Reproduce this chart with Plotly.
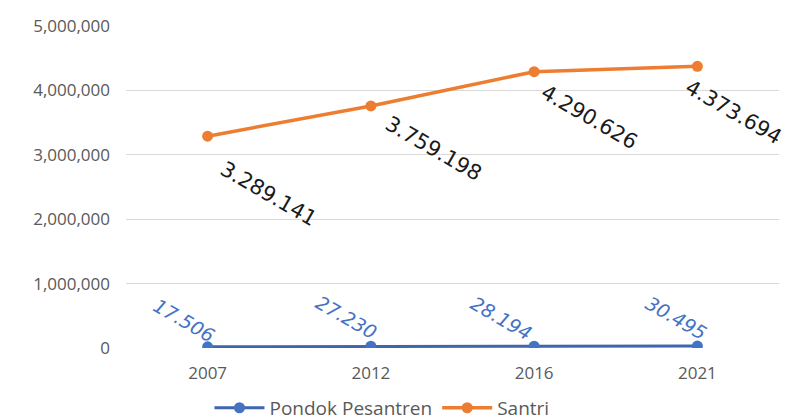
import plotly.graph_objects as go

years = ["2007", "2012", "2016", "2021"]
pondok = [17506, 27230, 28194, 30495]
santri = [3289141, 3759198, 4290626, 4373694]
pondok_labels = ["17.506", "27.230", "28.194", "30.495"]
santri_labels = ["3.289.141", "3.759.198", "4.290.626", "4.373.694"]
y_ticks = [0, 1000000, 2000000, 3000000, 4000000, 5000000]

BLUE = "#4472C4"
BLUE_LINE = "#3F66AD"
ORANGE = "#ED7D31"
GRAY = "#595959"
FONT = "Open Sans"
LABEL_FONT = "DejaVu Sans"

fig = go.Figure()
fig.add_trace(go.Scatter(x=years, y=pondok, name="Pondok Pesantren", mode="lines+markers",
                         line=dict(color=BLUE_LINE, width=3),
                         marker=dict(color=BLUE, size=11)))
fig.add_trace(go.Scatter(x=years, y=santri, name="Santri", mode="lines+markers",
                         line=dict(color=ORANGE, width=3.5),
                         marker=dict(color=ORANGE, size=11)))

annotations = []
s_shift = [(61, -58), (63, -43), (55, -45), (36, -46)]
for i, (v, t) in enumerate(zip(santri, santri_labels)):
    dx, dy = s_shift[i]
    annotations.append(dict(x=i, y=v, xref="x", yref="y", text=t, showarrow=False,
                            textangle=30, xanchor="center", yanchor="middle",
                            xshift=dx, yshift=dy,
                            font=dict(family=LABEL_FONT, size=21, color="#1a1a1a")))

p_shift = [(-24, 27), (-25, 29), (-33, 28), (-21, 28)]
for i, (v, t) in enumerate(zip(pondok, pondok_labels)):
    dx, dy = p_shift[i]
    annotations.append(dict(x=i, y=v, xref="x", yref="y", text="<i>" + t + "</i>",
                            showarrow=False, textangle=30,
                            xanchor="center", yanchor="middle", xshift=dx, yshift=dy,
                            font=dict(family=LABEL_FONT, size=19, color=BLUE)))

fig.update_layout(
    width=786, height=420,
    margin=dict(l=126, r=7, t=26, b=72, autoexpand=False),
    paper_bgcolor="white", plot_bgcolor="white",
    font=dict(family=FONT, size=14, color=GRAY),
    showlegend=True,
    legend=dict(orientation="h", x=0.392, xanchor="center", y=-0.186, yanchor="middle",
                font=dict(family=FONT, size=19, color=GRAY), itemwidth=50,
                bgcolor="rgba(0,0,0,0)"),
    annotations=annotations,
)
fig.update_xaxes(type="category", range=[-0.5, 3.5], showgrid=False, zeroline=False,
                 showline=False, ticks="", ticklabelstandoff=13,
                 tickfont=dict(size=17, color=GRAY))
fig.update_yaxes(range=[0, 5000000], tickvals=y_ticks, tickformat=",d",
                 showgrid=True, gridcolor="#D9D9D9", gridwidth=1, zeroline=False,
                 showline=False, ticks="", ticklabelstandoff=15,
                 tickfont=dict(size=17, color=GRAY))

fig.write_html("out.html")
